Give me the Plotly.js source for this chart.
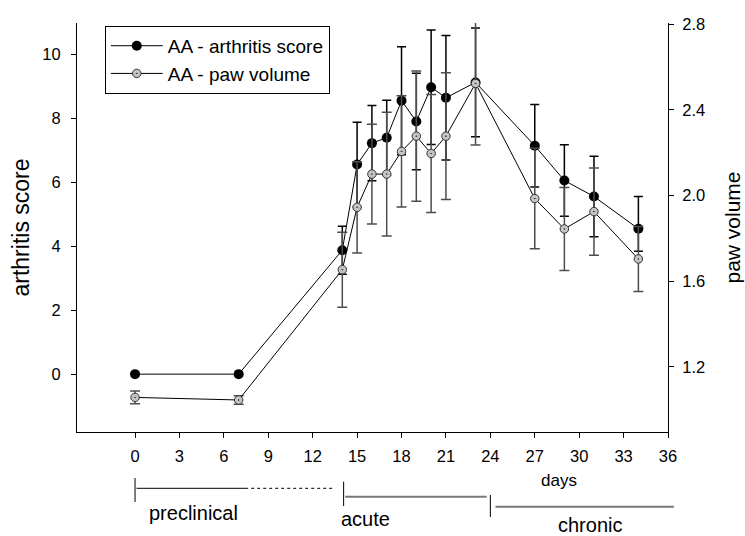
<!DOCTYPE html>
<html><head><meta charset="utf-8">
<script src="https://cdn.plot.ly/plotly-3.0.1.min.js"></script>
<style>html,body{margin:0;padding:0;background:#fff}#chart{width:745px;height:536px}</style>
</head><body><div id="chart"></div>
<script>
const days = [0, 7, 14, 15, 16, 17, 18, 19, 20, 21, 23, 27, 29, 31, 34];
const arthritisScore = [0, 0, 3.88, 6.56, 7.23, 7.40, 8.56, 7.91, 8.98, 8.65, 9.13, 7.15, 6.06, 5.56, 4.55];
const scoreErrPlus  = [0, 0, 0.75, 1.32, 1.18, 1.17, 1.69, 1.51, 1.79, 1.95, 1.70, 1.29, 1.12, 1.26, 1.01];
const scoreErrMinus = [0, 0, 0.75, 1.32, 1.18, 1.17, 1.69, 1.51, 1.79, 1.95, 1.70, 1.29, 1.12, 1.26, 0.70];
const pawVolume = [1.058, 1.046, 1.654, 1.945, 2.10, 2.10, 2.206, 2.277, 2.196, 2.277, 2.523, 1.986, 1.844, 1.925, 1.704];
const pawErr    = [0.03, 0.02, 0.175, 0.213, 0.233, 0.289, 0.259, 0.304, 0.275, 0.296, 0.287, 0.234, 0.194, 0.204, 0.152];
const xTicks = [0, 3, 6, 9, 12, 15, 18, 21, 24, 27, 30, 33, 36];
const leftTicks = [0, 2, 4, 6, 8, 10];
const rightTicks = [1.2, 1.6, 2.0, 2.4, 2.8];
const rightTickText = ['1.2', '1.6', '2.0', '2.4', '2.8'];
const phaseLabels = ['preclinical', 'acute', 'chronic'];
const phaseStart = [0, 14, 24];
const seriesNames = ['AA - arthritis score', 'AA - paw volume'];

const FONT = 'Liberation Sans, Arial, Helvetica, sans-serif';
const xRange = [-3.92, 36];
const M = {l: 77, r: 77, t: 23, b: 104};
const H = 536, PH = H - M.t - M.b;
const px = d => (d - xRange[0]) / (xRange[1] - xRange[0]);
const py = y => (H - M.b - y) / PH;

function line(d0, d1, y0, y1, color, width, dash) {
  return {type: 'line', xref: 'paper', yref: 'paper', x0: px(d0), x1: px(d1), y0: py(y0), y1: py(y1),
          line: {color: color, width: width, dash: dash || 'solid'}};
}
const shapes = [
  line(phaseStart[0], phaseStart[0], 478, 502, '#000', 1),
  line(phaseStart[0] + 0.1, 7.44, 488.3, 488.3, '#000', 1),
  line(7.44, 13.5, 488.3, 488.3, '#000', 1, 'dot'),
  line(phaseStart[1] + 0.09, phaseStart[1] + 0.09, 481.7, 506, '#000', 1),
  line(phaseStart[1] + 0.2, 23.75, 496.7, 496.7, '#777', 2),
  line(phaseStart[2], phaseStart[2], 495, 517, '#000', 1),
  line(phaseStart[2] + 0.35, 36.4, 506.7, 506.7, '#777', 2)
];
function ann(text, d, y, size) {
  return {text: text, xref: 'paper', yref: 'paper', x: px(d), y: py(y), showarrow: false,
          xanchor: 'center', yanchor: 'middle', font: {family: FONT, size: size, color: '#000'}};
}
const annotations = [
  ann('days', 28.65, 480, 17),
  ann(phaseLabels[0], 3.94, 513, 20),
  ann(phaseLabels[1], 15.6, 519, 20),
  ann(phaseLabels[2], 30.7, 524.5, 20)
];

const traces = [
  {x: days, y: arthritisScore, name: seriesNames[0], type: 'scatter', mode: 'lines+markers', yaxis: 'y',
   line: {color: '#000', width: 1},
   marker: {color: '#000', size: 10, symbol: 'circle'},
   error_y: {type: 'data', symmetric: false, array: scoreErrPlus, arrayminus: scoreErrMinus,
             color: '#000', thickness: 1.5, width: 4.5}},
  {x: days, y: pawVolume, name: seriesNames[1], type: 'scatter', mode: 'lines+markers', yaxis: 'y2',
   line: {color: '#000', width: 1},
   marker: {color: '#c4c4c4', size: 8.5, symbol: 'circle-dot', line: {color: '#333', width: 1}},
   error_y: {type: 'data', array: pawErr, color: '#4d4d4d', thickness: 1.5, width: 5}}
];

const axCommon = {showgrid: false, zeroline: false, showline: true, linecolor: '#000', linewidth: 1,
                  ticks: 'outside', ticklen: 5, tickcolor: '#000', tickwidth: 1,
                  tickfont: {family: FONT, size: 16.5, color: '#000'}};
const layout = {
  width: 745, height: 536, margin: M,
  paper_bgcolor: '#fff', plot_bgcolor: '#fff',
  font: {family: FONT, color: '#000'},
  showlegend: true,
  xaxis: Object.assign({}, axCommon, {range: xRange, tickmode: 'array', tickvals: xTicks, ticklabelstandoff: 4}),
  yaxis: Object.assign({}, axCommon, {range: [-1.81, 10.99], tickmode: 'array', tickvals: leftTicks,
          ticklabelstandoff: 7,
          title: {text: 'arthritis score', font: {family: FONT, size: 23, color: '#000'}, standoff: 6}}),
  yaxis2: Object.assign({}, axCommon, {overlaying: 'y', side: 'right', anchor: 'x', range: [0.8966, 2.805],
          tickmode: 'array', tickvals: rightTicks, ticktext: rightTickText, ticklabelstandoff: 5,
          title: {text: 'paw volume', font: {family: FONT, size: 21, color: '#000'}, standoff: 21}}),
  legend: {x: 0.047, y: 0.993, xanchor: 'left', yanchor: 'top', bgcolor: '#fff',
           bordercolor: '#000', borderwidth: 1, font: {family: FONT, size: 19, color: '#000'},
           itemwidth: 52, tracegroupgap: 0},
  shapes: shapes,
  annotations: annotations
};
Plotly.newPlot('chart', traces, layout, {displayModeBar: false, staticPlot: true});
</script></body></html>
